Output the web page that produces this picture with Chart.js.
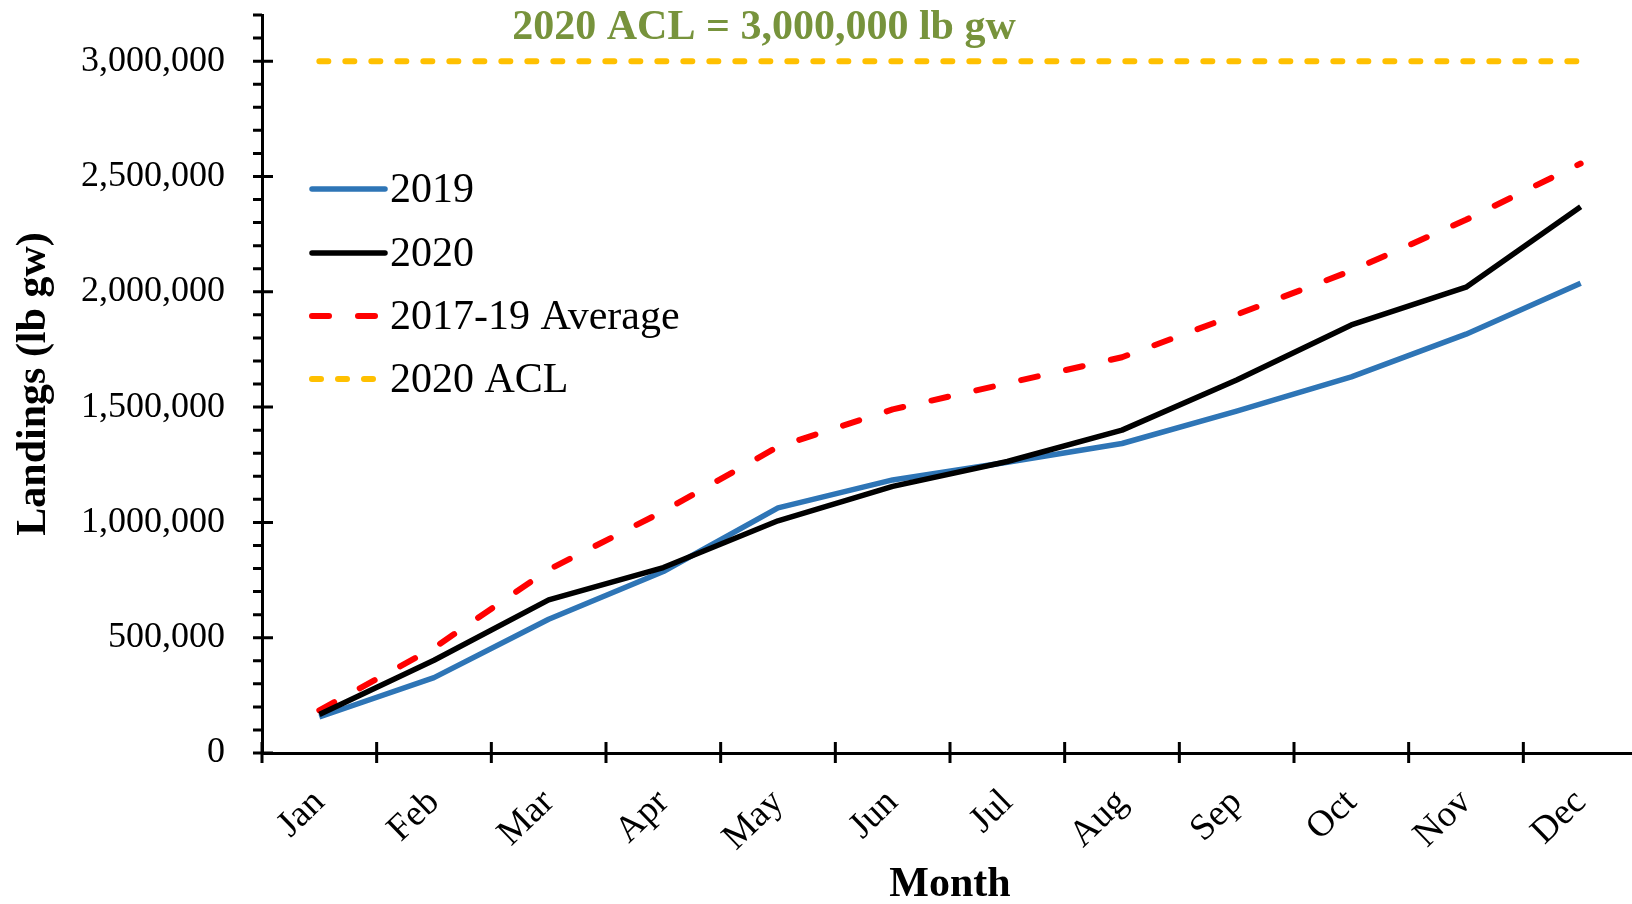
<!DOCTYPE html>
<html>
<head>
<meta charset="utf-8">
<script src="https://cdn.jsdelivr.net/npm/chart.js@4.4.1/dist/chart.umd.min.js"></script>
<style>
  html, body { margin:0; padding:0; background:#fff; overflow:hidden; }
  #wrap { width:1640px; height:904px; position:relative; }
</style>
</head>
<body>
<div id="wrap"><canvas id="chart"></canvas></div>
<script>
// data (cumulative landings, lb gw)
const months = ["Jan","Feb","Mar","Apr","May","Jun","Jul","Aug","Sep","Oct","Nov","Dec"];
const landings2019 = [156000, 327000, 580000, 787000, 1063000, 1184000, 1261000, 1342000, 1482000, 1631000, 1816000, 2037000];
const landings2020 = [167000, 402000, 664000, 804000, 1007000, 1156000, 1264000, 1400000, 1617000, 1856000, 2020000, 2369000];
const avg2017to19  = [185000, 456000, 795000, 1048000, 1328000, 1490000, 1603000, 1716000, 1901000, 2091000, 2312000, 2556000];
const acl2020      = [3000000, 3000000, 3000000, 3000000, 3000000, 3000000, 3000000, 3000000, 3000000, 3000000, 3000000, 3000000];
const seriesNames  = ["2019", "2020", "2017-19 Average", "2020 ACL"];
const yMax = 3200000, yStep = 100000, yLabelStep = 500000;
const aclNote = "2020 ACL = 3,000,000 lb gw";

const SERIF = "'Liberation Serif', 'Times New Roman', serif";

function fmt(v){
  return Number(v).toLocaleString("en-US");
}

// excel-style tick marks: crossing the axis for major, outside for minor
const axisTicks = {
  id: "axisTicks",
  afterDraw(chart){
    const {ctx, scales:{x, y}, chartArea} = chart;
    ctx.save();
    ctx.strokeStyle = "#000";
    ctx.lineWidth = 3;
    ctx.beginPath();
    const ax = chartArea.left;
    for(const t of y.ticks){
      const py = y.getPixelForValue(t.value);
      const major = t.value % yLabelStep === 0;
      ctx.moveTo(ax - 9, py);
      ctx.lineTo(major ? ax + 11 : ax, py);
    }
    const ay = chartArea.bottom;
    for(let i = 0; i <= months.length; i++){
      const px = x.getPixelForValue(i - 0.5);
      ctx.moveTo(px, ay - 11);
      ctx.lineTo(px, ay + 10);
    }
    ctx.stroke();
    ctx.restore();
  }
};

// legend placed inside the plot like the original, plus the ACL note
const insideLegend = {
  id: "insideLegend",
  afterDraw(chart){
    const {ctx} = chart;
    ctx.save();
    const rows = [189, 253, 316, 379];
    chart.data.datasets.forEach((ds, i) => {
      const yy = rows[i];
      ctx.strokeStyle = ds.borderColor;
      ctx.lineWidth = ds.borderWidth;
      ctx.lineCap = "round";
      ctx.setLineDash(ds.borderDash || []);
      ctx.beginPath();
      ctx.moveTo(312, yy);
      ctx.lineTo(385, yy);
      ctx.stroke();
      ctx.setLineDash([]);
      ctx.fillStyle = "#000";
      ctx.font = `42px ${SERIF}`;
      ctx.textBaseline = "middle";
      ctx.textAlign = "left";
      ctx.fillText(ds.label, 390, yy + 2);
    });
    ctx.fillStyle = "#77933C";
    ctx.font = `bold 42px ${SERIF}`;
    ctx.textAlign = "center";
    ctx.textBaseline = "middle";
    ctx.fillText(aclNote, 764, 28);
    ctx.restore();
  }
};

new Chart(document.getElementById("chart"), {
  type: "line",
  data: {
    labels: months,
    datasets: [
      { label: seriesNames[0], data: landings2019, borderColor: "#2E75B6", borderWidth: 5.5, order: 2 },
      { label: seriesNames[1], data: landings2020, borderColor: "#000000", borderWidth: 5.5, order: 1 },
      { label: seriesNames[2], data: avg2017to19, borderColor: "#FF0000", borderWidth: 6, borderDash: [17, 29], borderCapStyle: "round", order: 3 },
      { label: seriesNames[3], data: acl2020, borderColor: "#FFC000", borderWidth: 6, borderDash: [9, 17], borderCapStyle: "round", order: 4 }
    ]
  },
  options: {
    responsive: true,
    maintainAspectRatio: false,
    animation: false,
    layout: { padding: { top: 15, right: 2, left: 0, bottom: 0 } },
    elements: {
      point: { radius: 0, hoverRadius: 0 },
      line: { tension: 0, fill: false, borderJoinStyle: "round" }
    },
    plugins: {
      legend: { display: false },
      tooltip: { enabled: false }
    },
    scales: {
      x: {
        offset: true,
        grid: { display: true, drawOnChartArea: false, drawTicks: false, color: "#000", lineWidth: 0 },
        border: { display: true, color: "#000", width: 3 },
        ticks: {
          color: "#000",
          font: { family: SERIF, size: 37 },
          minRotation: 44, maxRotation: 44,
          padding: 28,
          autoSkip: false
        },
        title: {
          display: true, text: "Month", color: "#000",
          font: { family: SERIF, size: 42, weight: "bold", lineHeight: 0.9 },
          padding: { top: 0, bottom: 0 }
        },
        afterFit(scale){
          scale.height = 151;
          scale.paddingLeft = 0;
          scale.paddingRight = 0;
        }
      },
      y: {
        min: 0, max: yMax,
        grid: { display: true, drawOnChartArea: false, drawTicks: false, color: "#000", lineWidth: 0 },
        border: { display: true, color: "#000", width: 3 },
        ticks: {
          stepSize: yStep,
          autoSkip: false,
          color: "#000",
          font: { family: SERIF, size: 36 },
          padding: 37,
          callback: v => (v % yLabelStep === 0 ? fmt(v) : "")
        },
        title: {
          display: true, text: "Landings (lb gw)", color: "#000",
          font: { family: SERIF, size: 42, weight: "bold", lineHeight: 1 },
          padding: { top: 13, bottom: 0 }
        },
        afterFit(scale){
          scale.width = 262;
          scale.paddingTop = 0;
          scale.paddingBottom = 0;
        }
      }
    }
  },
  plugins: [axisTicks, insideLegend]
});
</script>
</body>
</html>
